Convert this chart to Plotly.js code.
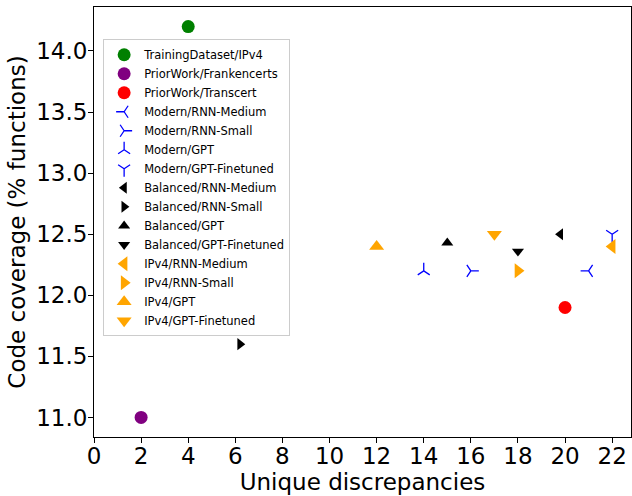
<!DOCTYPE html>
<html>
<head>
<meta charset="utf-8">
<script src="https://cdn.plot.ly/plotly-3.0.1.min.js"></script>
<style>html,body{margin:0;padding:0;background:#fff;}#chart{width:632px;height:496px;}</style>
</head>
<body>
<div id="chart"></div>
<script>
// Series (one point each)
const names = [
  "TrainingDataset/IPv4", "PriorWork/Frankencerts", "PriorWork/Transcert",
  "Modern/RNN-Medium", "Modern/RNN-Small", "Modern/GPT", "Modern/GPT-Finetuned",
  "Balanced/RNN-Medium", "Balanced/RNN-Small", "Balanced/GPT", "Balanced/GPT-Finetuned",
  "IPv4/RNN-Medium", "IPv4/RNN-Small", "IPv4/GPT", "IPv4/GPT-Finetuned"
];
const discrepancies = [4, 2, 20, 21, 16, 14, 22, 19.8, 6.2, 15, 18, 22, 18, 12, 17];
const coverage = [14.2, 11.0, 11.9, 12.2, 12.2, 12.2, 12.5, 12.5, 11.6, 12.43, 12.36, 12.4, 12.2, 12.4, 12.5];
const symbols = [
  "circle", "circle", "circle",
  "y-left", "y-right", "y-up", "y-down",
  "triangle-left", "triangle-right", "triangle-up", "triangle-down",
  "triangle-left", "triangle-right", "triangle-up", "triangle-down"
];
const colors = [
  "#008000", "#800080", "#ff0000",
  "#0000ff", "#0000ff", "#0000ff", "#0000ff",
  "#000000", "#000000", "#000000", "#000000",
  "#ffa500", "#ffa500", "#ffa500", "#ffa500"
];
const sizes = [13, 13, 13, 10, 10, 10, 10, 10.5, 10.5, 10.5, 10.5, 13, 13, 13, 13];

const traces = names.map((n, i) => {
  const isLine = symbols[i].startsWith("y-");
  return {
    type: "scatter", mode: "markers", name: n,
    x: [discrepancies[i]], y: [coverage[i]],
    marker: {
      symbol: symbols[i],
      size: sizes[i],
      color: colors[i],
      line: isLine ? {color: colors[i], width: 1.3} : {width: 0}
    }
  };
});

const axisCommon = {
  showline: true, mirror: true, linecolor: "#000", linewidth: 1,
  ticks: "outside", ticklen: 5, tickwidth: 1, tickcolor: "#000",
  showgrid: false, zeroline: false,
  tickfont: {family: "DejaVu Sans", size: 23, color: "#000"}
};

const layout = {
  width: 632, height: 496,
  margin: {l: 94, r: 1, t: 7, b: 59},
  paper_bgcolor: "#fff", plot_bgcolor: "#fff",
  font: {family: "DejaVu Sans", color: "#000"},
  xaxis: Object.assign({}, axisCommon, {
    range: [0, 22.8], tickmode: "linear", tick0: 0, dtick: 2,
    ticklabelstandoff: -7,
    title: {text: "Unique discrepancies", font: {family: "DejaVu Sans", size: 23, color: "#000"}, standoff: 2}
  }),
  yaxis: Object.assign({}, axisCommon, {
    range: [10.84, 14.36], tickmode: "linear", tick0: 11, dtick: 0.5, tickformat: ".1f",
    ticklabelstandoff: -4,
    title: {text: "Code coverage (% functions)", font: {family: "DejaVu Sans", size: 23, color: "#000"}, standoff: 4}
  }),
  showlegend: true,
  legend: {
    x: 0.017, y: 0.925, xanchor: "left", yanchor: "top",
    bgcolor: "rgba(255,255,255,0.8)", bordercolor: "#cccccc", borderwidth: 1,
    font: {family: "DejaVu Sans", size: 11.5, color: "#000"},
    tracegroupgap: 0, itemwidth: 30
  }
};

Plotly.newPlot("chart", traces, layout, {displayModeBar: false, staticPlot: true});
</script>
</body>
</html>
